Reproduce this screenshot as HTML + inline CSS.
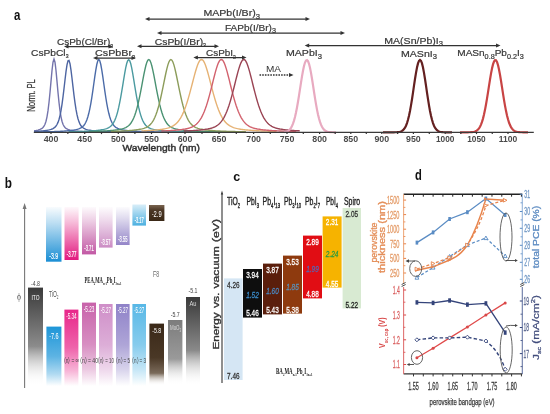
<!DOCTYPE html>
<html><head><meta charset="utf-8"><style>
html,body{margin:0;padding:0;background:#fff;width:550px;height:414px;overflow:hidden}
svg{display:block;filter:blur(0.35px)}
</style></head><body>
<svg width="550" height="414" viewBox="0 0 550 414">
<rect width="550" height="414" fill="#fff"/>
<g id="pa">
<text x="13.9" y="19.6" font-size="14.5" fill="#111" font-weight="bold" text-anchor="start" textLength="6.4" lengthAdjust="spacingAndGlyphs" font-family='"Liberation Sans", sans-serif' ><tspan>a</tspan></text>
<path d="M34.00,130.84 L35.00,130.69 L36.00,130.52 L37.00,130.32 L38.00,130.08 L39.00,129.79 L40.00,129.43 L41.00,128.98 L42.00,128.36 L43.00,127.50 L44.00,126.20 L45.00,124.23 L46.00,121.25 L47.00,116.84 L48.00,110.65 L49.00,102.48 L50.00,92.49 L51.00,81.34 L52.00,70.48 L53.00,62.18 L54.00,59.00 L55.00,62.18 L56.00,70.48 L57.00,81.34 L58.00,92.49 L59.00,102.48 L60.00,110.65 L61.00,116.84 L62.00,121.25 L63.00,124.23 L64.00,126.20 L65.00,127.50 L66.00,128.36 L67.00,128.98 L68.00,129.43 L69.00,129.79 L70.00,130.08 L71.00,130.32 L72.00,130.52 L73.00,130.69 L74.00,130.84 L75.00,130.97 L76.00,131.09 L77.00,131.19 L78.00,131.27 L79.00,131.35 L80.00,131.42 L81.00,131.48 L82.00,131.54 L83.00,131.59 L84.00,131.64 L85.00,131.68 L86.00,131.71 L87.00,131.75 L88.00,131.78 L89.00,131.81 L90.00,131.84 L91.00,131.86 L92.00,131.88 L93.00,131.90 L94.00,131.92 L95.00,131.94 L96.00,131.96 L97.00,131.97 L98.00,131.99 L99.00,132.00 L100.00,132.01 L101.00,132.03 L102.00,132.04 L103.00,132.05 L104.00,132.06 L105.00,132.07 L106.00,132.08 L107.00,132.08 L108.00,132.09 L109.00,132.10 L110.00,132.11 L111.00,132.11 L112.00,132.12 L113.00,132.13 L114.00,132.13 L115.00,132.14 L116.00,132.14 L117.00,132.15 L118.00,132.15 L119.00,132.16 L120.00,132.16 L121.00,132.16 L122.00,132.17 L123.00,132.17 L124.00,132.18 L125.00,132.18 L126.00,132.18 L127.00,132.19 L128.00,132.19 L129.00,132.19" fill="none" stroke="#7474ac" stroke-width="1.4"/>
<path d="M34.00,131.50 L35.00,131.45 L36.00,131.40 L37.00,131.34 L38.00,131.28 L39.00,131.21 L40.00,131.14 L41.00,131.06 L42.00,130.97 L43.00,130.86 L44.00,130.75 L45.00,130.62 L46.00,130.48 L47.00,130.32 L48.00,130.13 L49.00,129.92 L50.00,129.67 L51.00,129.37 L52.00,129.01 L53.00,128.55 L54.00,127.96 L55.00,127.15 L56.00,126.05 L57.00,124.51 L58.00,122.37 L59.00,119.45 L60.00,115.55 L61.00,110.53 L62.00,104.31 L63.00,96.94 L64.00,88.67 L65.00,79.98 L66.00,71.65 L67.00,64.80 L68.00,60.71 L69.00,60.32 L70.00,63.73 L71.00,70.12 L72.00,78.25 L73.00,86.94 L74.00,95.35 L75.00,102.92 L76.00,109.38 L77.00,114.64 L78.00,118.75 L79.00,121.85 L80.00,124.13 L81.00,125.78 L82.00,126.96 L83.00,127.81 L84.00,128.45 L85.00,128.93 L86.00,129.31 L87.00,129.61 L88.00,129.87 L89.00,130.09 L90.00,130.28 L91.00,130.45 L92.00,130.60 L93.00,130.73 L94.00,130.84 L95.00,130.95 L96.00,131.04 L97.00,131.12 L98.00,131.20 L99.00,131.27 L100.00,131.33 L101.00,131.39 L102.00,131.44 L103.00,131.49 L104.00,131.53 L105.00,131.57 L106.00,131.61 L107.00,131.65 L108.00,131.68 L109.00,131.71 L110.00,131.74 L111.00,131.76 L112.00,131.79 L113.00,131.81 L114.00,131.83 L115.00,131.85 L116.00,131.87 L117.00,131.89 L118.00,131.90 L119.00,131.92 L120.00,131.93 L121.00,131.95 L122.00,131.96 L123.00,131.97 L124.00,131.98 L125.00,131.99 L126.00,132.00 L127.00,132.01 L128.00,132.02 L129.00,132.03 L130.00,132.04 L131.00,132.05 L132.00,132.06 L133.00,132.06 L134.00,132.07 L135.00,132.08 L136.00,132.08 L137.00,132.09 L138.00,132.10 L139.00,132.10 L140.00,132.11 L141.00,132.11 L142.00,132.12 L143.00,132.12" fill="none" stroke="#4d65a2" stroke-width="1.4"/>
<path d="M38.80,131.89 L39.80,131.88 L40.80,131.86 L41.80,131.85 L42.80,131.83 L43.80,131.81 L44.80,131.80 L45.80,131.78 L46.80,131.76 L47.80,131.74 L48.80,131.71 L49.80,131.69 L50.80,131.66 L51.80,131.64 L52.80,131.61 L53.80,131.58 L54.80,131.55 L55.80,131.51 L56.80,131.48 L57.80,131.44 L58.80,131.39 L59.80,131.35 L60.80,131.30 L61.80,131.24 L62.80,131.19 L63.80,131.13 L64.80,131.06 L65.80,130.98 L66.80,130.90 L67.80,130.82 L68.80,130.72 L69.80,130.62 L70.80,130.50 L71.80,130.37 L72.80,130.23 L73.80,130.07 L74.80,129.89 L75.80,129.69 L76.80,129.46 L77.80,129.18 L78.80,128.86 L79.80,128.46 L80.80,127.97 L81.80,127.35 L82.80,126.54 L83.80,125.48 L84.80,124.09 L85.80,122.28 L86.80,119.95 L87.80,116.98 L88.80,113.30 L89.80,108.83 L90.80,103.55 L91.80,97.52 L92.80,90.84 L93.80,83.77 L94.80,76.66 L95.80,70.03 L96.80,64.51 L97.80,60.81 L98.80,59.50 L99.80,60.81 L100.80,64.51 L101.80,70.03 L102.80,76.66 L103.80,83.77 L104.80,90.84 L105.80,97.52 L106.80,103.55 L107.80,108.83 L108.80,113.30 L109.80,116.98 L110.80,119.95 L111.80,122.28 L112.80,124.09 L113.80,125.48 L114.80,126.54 L115.80,127.35 L116.80,127.97 L117.80,128.46 L118.80,128.86 L119.80,129.18 L120.80,129.46 L121.80,129.69 L122.80,129.89 L123.80,130.07 L124.80,130.23 L125.80,130.37 L126.80,130.50 L127.80,130.62 L128.80,130.72 L129.80,130.82 L130.80,130.90 L131.80,130.98 L132.80,131.06 L133.80,131.13 L134.80,131.19 L135.80,131.24 L136.80,131.30 L137.80,131.35 L138.80,131.39 L139.80,131.44 L140.80,131.48 L141.80,131.51 L142.80,131.55 L143.80,131.58 L144.80,131.61 L145.80,131.64 L146.80,131.66 L147.80,131.69 L148.80,131.71 L149.80,131.74 L150.80,131.76 L151.80,131.78 L152.80,131.80 L153.80,131.81 L154.80,131.83 L155.80,131.85 L156.80,131.86 L157.80,131.88 L158.80,131.89 L159.80,131.90 L160.80,131.92 L161.80,131.93 L162.80,131.94 L163.80,131.95 L164.80,131.96 L165.80,131.97 L166.80,131.98 L167.80,131.99 L168.80,132.00 L169.80,132.01 L170.80,132.01 L171.80,132.02 L172.80,132.03 L173.80,132.04" fill="none" stroke="#4b6ba8" stroke-width="1.4"/>
<path d="M68.70,131.76 L69.70,131.75 L70.70,131.73 L71.70,131.71 L72.70,131.69 L73.70,131.66 L74.70,131.64 L75.70,131.62 L76.70,131.59 L77.70,131.56 L78.70,131.53 L79.70,131.50 L80.70,131.47 L81.70,131.44 L82.70,131.40 L83.70,131.36 L84.70,131.32 L85.70,131.27 L86.70,131.22 L87.70,131.17 L88.70,131.12 L89.70,131.06 L90.70,131.00 L91.70,130.93 L92.70,130.85 L93.70,130.77 L94.70,130.69 L95.70,130.59 L96.70,130.49 L97.70,130.38 L98.70,130.25 L99.70,130.12 L100.70,129.97 L101.70,129.80 L102.70,129.62 L103.70,129.41 L104.70,129.16 L105.70,128.88 L106.70,128.54 L107.70,128.14 L108.70,127.64 L109.70,127.02 L110.70,126.24 L111.70,125.26 L112.70,124.01 L113.70,122.44 L114.70,120.48 L115.70,118.05 L116.70,115.11 L117.70,111.58 L118.70,107.45 L119.70,102.71 L120.70,97.41 L121.70,91.62 L122.70,85.52 L123.70,79.31 L124.70,73.30 L125.70,67.90 L126.70,63.54 L127.70,60.69 L128.70,59.70 L129.70,60.69 L130.70,63.54 L131.70,67.90 L132.70,73.30 L133.70,79.31 L134.70,85.52 L135.70,91.62 L136.70,97.41 L137.70,102.71 L138.70,107.45 L139.70,111.58 L140.70,115.11 L141.70,118.05 L142.70,120.48 L143.70,122.44 L144.70,124.01 L145.70,125.26 L146.70,126.24 L147.70,127.02 L148.70,127.64 L149.70,128.14 L150.70,128.54 L151.70,128.88 L152.70,129.16 L153.70,129.41 L154.70,129.62 L155.70,129.80 L156.70,129.97 L157.70,130.12 L158.70,130.25 L159.70,130.38 L160.70,130.49 L161.70,130.59 L162.70,130.69 L163.70,130.77 L164.70,130.85 L165.70,130.93 L166.70,131.00 L167.70,131.06 L168.70,131.12 L169.70,131.17 L170.70,131.22 L171.70,131.27 L172.70,131.32 L173.70,131.36 L174.70,131.40 L175.70,131.44 L176.70,131.47 L177.70,131.50 L178.70,131.53 L179.70,131.56 L180.70,131.59 L181.70,131.62 L182.70,131.64 L183.70,131.66 L184.70,131.69 L185.70,131.71 L186.70,131.73 L187.70,131.75 L188.70,131.76 L189.70,131.78 L190.70,131.80 L191.70,131.81 L192.70,131.83 L193.70,131.84 L194.70,131.86 L195.70,131.87 L196.70,131.88 L197.70,131.89 L198.70,131.90 L199.70,131.92 L200.70,131.93 L201.70,131.94 L202.70,131.95 L203.70,131.95" fill="none" stroke="#4b9aa0" stroke-width="1.4"/>
<path d="M88.80,131.58 L89.80,131.56 L90.80,131.53 L91.80,131.50 L92.80,131.48 L93.80,131.45 L94.80,131.41 L95.80,131.38 L96.80,131.35 L97.80,131.31 L98.80,131.27 L99.80,131.23 L100.80,131.19 L101.80,131.14 L102.80,131.09 L103.80,131.04 L104.80,130.98 L105.80,130.93 L106.80,130.86 L107.80,130.79 L108.80,130.72 L109.80,130.64 L110.80,130.56 L111.80,130.47 L112.80,130.37 L113.80,130.27 L114.80,130.15 L115.80,130.03 L116.80,129.89 L117.80,129.74 L118.80,129.58 L119.80,129.39 L120.80,129.18 L121.80,128.95 L122.80,128.67 L123.80,128.35 L124.80,127.97 L125.80,127.52 L126.80,126.97 L127.80,126.30 L128.80,125.48 L129.80,124.47 L130.80,123.25 L131.80,121.75 L132.80,119.95 L133.80,117.79 L134.80,115.24 L135.80,112.26 L136.80,108.83 L137.80,104.95 L138.80,100.62 L139.80,95.90 L140.80,90.84 L141.80,85.56 L142.80,80.20 L143.80,74.94 L144.80,70.03 L145.80,65.74 L146.80,62.39 L147.80,60.24 L148.80,59.50 L149.80,60.24 L150.80,62.39 L151.80,65.74 L152.80,70.03 L153.80,74.94 L154.80,80.20 L155.80,85.56 L156.80,90.84 L157.80,95.90 L158.80,100.62 L159.80,104.95 L160.80,108.83 L161.80,112.26 L162.80,115.24 L163.80,117.79 L164.80,119.95 L165.80,121.75 L166.80,123.25 L167.80,124.47 L168.80,125.48 L169.80,126.30 L170.80,126.97 L171.80,127.52 L172.80,127.97 L173.80,128.35 L174.80,128.67 L175.80,128.95 L176.80,129.18 L177.80,129.39 L178.80,129.58 L179.80,129.74 L180.80,129.89 L181.80,130.03 L182.80,130.15 L183.80,130.27 L184.80,130.37 L185.80,130.47 L186.80,130.56 L187.80,130.64 L188.80,130.72 L189.80,130.79 L190.80,130.86 L191.80,130.93 L192.80,130.98 L193.80,131.04 L194.80,131.09 L195.80,131.14 L196.80,131.19 L197.80,131.23 L198.80,131.27 L199.80,131.31 L200.80,131.35 L201.80,131.38 L202.80,131.41 L203.80,131.45 L204.80,131.48 L205.80,131.50 L206.80,131.53 L207.80,131.56 L208.80,131.58 L209.80,131.60 L210.80,131.62 L211.80,131.64 L212.80,131.66 L213.80,131.68 L214.80,131.70 L215.80,131.72 L216.80,131.74 L217.80,131.75 L218.80,131.77 L219.80,131.78 L220.80,131.80 L221.80,131.81 L222.80,131.82 L223.80,131.83" fill="none" stroke="#4a9272" stroke-width="1.4"/>
<path d="M110.90,131.46 L111.90,131.43 L112.90,131.40 L113.90,131.37 L114.90,131.34 L115.90,131.30 L116.90,131.27 L117.90,131.23 L118.90,131.19 L119.90,131.14 L120.90,131.10 L121.90,131.05 L122.90,131.00 L123.90,130.95 L124.90,130.89 L125.90,130.83 L126.90,130.77 L127.90,130.70 L128.90,130.62 L129.90,130.55 L130.90,130.46 L131.90,130.37 L132.90,130.28 L133.90,130.17 L134.90,130.06 L135.90,129.94 L136.90,129.80 L137.90,129.66 L138.90,129.49 L139.90,129.31 L140.90,129.11 L141.90,128.89 L142.90,128.63 L143.90,128.32 L144.90,127.97 L145.90,127.55 L146.90,127.06 L147.90,126.46 L148.90,125.75 L149.90,124.88 L150.90,123.84 L151.90,122.59 L152.90,121.10 L153.90,119.32 L154.90,117.24 L155.90,114.81 L156.90,112.01 L157.90,108.83 L158.90,105.26 L159.90,101.32 L160.90,97.02 L161.90,92.43 L162.90,87.61 L163.90,82.67 L164.90,77.74 L165.90,72.99 L166.90,68.63 L167.90,64.88 L168.90,61.97 L169.90,60.13 L170.90,59.50 L171.90,60.13 L172.90,61.97 L173.90,64.88 L174.90,68.63 L175.90,72.99 L176.90,77.74 L177.90,82.67 L178.90,87.61 L179.90,92.43 L180.90,97.02 L181.90,101.32 L182.90,105.26 L183.90,108.83 L184.90,112.01 L185.90,114.81 L186.90,117.24 L187.90,119.32 L188.90,121.10 L189.90,122.59 L190.90,123.84 L191.90,124.88 L192.90,125.75 L193.90,126.46 L194.90,127.06 L195.90,127.55 L196.90,127.97 L197.90,128.32 L198.90,128.63 L199.90,128.89 L200.90,129.11 L201.90,129.31 L202.90,129.49 L203.90,129.66 L204.90,129.80 L205.90,129.94 L206.90,130.06 L207.90,130.17 L208.90,130.28 L209.90,130.37 L210.90,130.46 L211.90,130.55 L212.90,130.62 L213.90,130.70 L214.90,130.77 L215.90,130.83 L216.90,130.89 L217.90,130.95 L218.90,131.00 L219.90,131.05 L220.90,131.10 L221.90,131.14 L222.90,131.19 L223.90,131.23 L224.90,131.27 L225.90,131.30 L226.90,131.34 L227.90,131.37 L228.90,131.40 L229.90,131.43 L230.90,131.46 L231.90,131.48 L232.90,131.51 L233.90,131.53 L234.90,131.56 L235.90,131.58 L236.90,131.60 L237.90,131.62 L238.90,131.64 L239.90,131.66 L240.90,131.68 L241.90,131.69 L242.90,131.71 L243.90,131.73 L244.90,131.74 L245.90,131.76" fill="none" stroke="#8c9c5a" stroke-width="1.4"/>
<path d="M141.50,130.94 L142.50,130.89 L143.50,130.85 L144.50,130.80 L145.50,130.75 L146.50,130.69 L147.50,130.63 L148.50,130.57 L149.50,130.51 L150.50,130.44 L151.50,130.37 L152.50,130.30 L153.50,130.22 L154.50,130.13 L155.50,130.04 L156.50,129.95 L157.50,129.85 L158.50,129.74 L159.50,129.62 L160.50,129.49 L161.50,129.35 L162.50,129.20 L163.50,129.04 L164.50,128.85 L165.50,128.65 L166.50,128.42 L167.50,128.16 L168.50,127.87 L169.50,127.54 L170.50,127.15 L171.50,126.71 L172.50,126.21 L173.50,125.62 L174.50,124.94 L175.50,124.15 L176.50,123.25 L177.50,122.20 L178.50,121.00 L179.50,119.63 L180.50,118.07 L181.50,116.31 L182.50,114.33 L183.50,112.13 L184.50,109.69 L185.50,107.02 L186.50,104.12 L187.50,100.98 L188.50,97.64 L189.50,94.11 L190.50,90.43 L191.50,86.63 L192.50,82.77 L193.50,78.92 L194.50,75.14 L195.50,71.54 L196.50,68.22 L197.50,65.29 L198.50,62.85 L199.50,61.02 L200.50,59.89 L201.50,59.50 L202.50,59.89 L203.50,61.02 L204.50,62.85 L205.50,65.29 L206.50,68.22 L207.50,71.54 L208.50,75.14 L209.50,78.92 L210.50,82.77 L211.50,86.63 L212.50,90.43 L213.50,94.11 L214.50,97.64 L215.50,100.98 L216.50,104.12 L217.50,107.02 L218.50,109.69 L219.50,112.13 L220.50,114.33 L221.50,116.31 L222.50,118.07 L223.50,119.63 L224.50,121.00 L225.50,122.20 L226.50,123.25 L227.50,124.15 L228.50,124.94 L229.50,125.62 L230.50,126.21 L231.50,126.71 L232.50,127.15 L233.50,127.54 L234.50,127.87 L235.50,128.16 L236.50,128.42 L237.50,128.65 L238.50,128.85 L239.50,129.04 L240.50,129.20 L241.50,129.35 L242.50,129.49 L243.50,129.62 L244.50,129.74 L245.50,129.85 L246.50,129.95 L247.50,130.04 L248.50,130.13 L249.50,130.22 L250.50,130.30 L251.50,130.37 L252.50,130.44 L253.50,130.51 L254.50,130.57 L255.50,130.63 L256.50,130.69 L257.50,130.75 L258.50,130.80 L259.50,130.85 L260.50,130.89 L261.50,130.94 L262.50,130.98 L263.50,131.02 L264.50,131.06 L265.50,131.10 L266.50,131.13 L267.50,131.17 L268.50,131.20 L269.50,131.23 L270.50,131.26 L271.50,131.29 L272.50,131.32 L273.50,131.34 L274.50,131.37 L275.50,131.39 L276.50,131.41" fill="none" stroke="#e6b274" stroke-width="1.4"/>
<path d="M161.30,131.04 L162.30,131.00 L163.30,130.96 L164.30,130.91 L165.30,130.86 L166.30,130.81 L167.30,130.76 L168.30,130.70 L169.30,130.64 L170.30,130.58 L171.30,130.52 L172.30,130.45 L173.30,130.37 L174.30,130.29 L175.30,130.21 L176.30,130.12 L177.30,130.03 L178.30,129.93 L179.30,129.82 L180.30,129.70 L181.30,129.58 L182.30,129.44 L183.30,129.29 L184.30,129.13 L185.30,128.95 L186.30,128.74 L187.30,128.52 L188.30,128.26 L189.30,127.97 L190.30,127.64 L191.30,127.26 L192.30,126.81 L193.30,126.30 L194.30,125.70 L195.30,125.00 L196.30,124.19 L197.30,123.25 L198.30,122.15 L199.30,120.89 L200.30,119.44 L201.30,117.79 L202.30,115.91 L203.30,113.80 L204.30,111.44 L205.30,108.83 L206.30,105.96 L207.30,102.84 L208.30,99.48 L209.30,95.90 L210.30,92.13 L211.30,88.22 L212.30,84.22 L213.30,80.20 L214.30,76.23 L215.30,72.42 L216.30,68.89 L217.30,65.74 L218.30,63.12 L219.30,61.15 L220.30,59.92 L221.30,59.50 L222.30,59.92 L223.30,61.15 L224.30,63.12 L225.30,65.74 L226.30,68.89 L227.30,72.42 L228.30,76.23 L229.30,80.20 L230.30,84.22 L231.30,88.22 L232.30,92.13 L233.30,95.90 L234.30,99.48 L235.30,102.84 L236.30,105.96 L237.30,108.83 L238.30,111.44 L239.30,113.80 L240.30,115.91 L241.30,117.79 L242.30,119.44 L243.30,120.89 L244.30,122.15 L245.30,123.25 L246.30,124.19 L247.30,125.00 L248.30,125.70 L249.30,126.30 L250.30,126.81 L251.30,127.26 L252.30,127.64 L253.30,127.97 L254.30,128.26 L255.30,128.52 L256.30,128.74 L257.30,128.95 L258.30,129.13 L259.30,129.29 L260.30,129.44 L261.30,129.58 L262.30,129.70 L263.30,129.82 L264.30,129.93 L265.30,130.03 L266.30,130.12 L267.30,130.21 L268.30,130.29 L269.30,130.37 L270.30,130.45 L271.30,130.52 L272.30,130.58 L273.30,130.64 L274.30,130.70 L275.30,130.76 L276.30,130.81 L277.30,130.86 L278.30,130.91 L279.30,130.96 L280.30,131.00 L281.30,131.04 L282.30,131.08 L283.30,131.12 L284.30,131.15 L285.30,131.19 L286.30,131.22 L287.30,131.25 L288.30,131.28 L289.30,131.31 L290.30,131.34 L291.30,131.36 L292.30,131.39 L293.30,131.41 L294.30,131.44 L295.30,131.46 L296.30,131.48" fill="none" stroke="#d2626e" stroke-width="1.4"/>
<path d="M183.80,131.04 L184.80,131.00 L185.80,130.96 L186.80,130.91 L187.80,130.86 L188.80,130.81 L189.80,130.76 L190.80,130.70 L191.80,130.64 L192.80,130.58 L193.80,130.52 L194.80,130.45 L195.80,130.37 L196.80,130.29 L197.80,130.21 L198.80,130.12 L199.80,130.03 L200.80,129.93 L201.80,129.82 L202.80,129.70 L203.80,129.58 L204.80,129.44 L205.80,129.29 L206.80,129.13 L207.80,128.95 L208.80,128.74 L209.80,128.52 L210.80,128.26 L211.80,127.97 L212.80,127.64 L213.80,127.26 L214.80,126.81 L215.80,126.30 L216.80,125.70 L217.80,125.00 L218.80,124.19 L219.80,123.25 L220.80,122.15 L221.80,120.89 L222.80,119.44 L223.80,117.79 L224.80,115.91 L225.80,113.80 L226.80,111.44 L227.80,108.83 L228.80,105.96 L229.80,102.84 L230.80,99.48 L231.80,95.90 L232.80,92.13 L233.80,88.22 L234.80,84.22 L235.80,80.20 L236.80,76.23 L237.80,72.42 L238.80,68.89 L239.80,65.74 L240.80,63.12 L241.80,61.15 L242.80,59.92 L243.80,59.50 L244.80,59.92 L245.80,61.15 L246.80,63.12 L247.80,65.74 L248.80,68.89 L249.80,72.42 L250.80,76.23 L251.80,80.20 L252.80,84.22 L253.80,88.22 L254.80,92.13 L255.80,95.90 L256.80,99.48 L257.80,102.84 L258.80,105.96 L259.80,108.83 L260.80,111.44 L261.80,113.80 L262.80,115.91 L263.80,117.79 L264.80,119.44 L265.80,120.89 L266.80,122.15 L267.80,123.25 L268.80,124.19 L269.80,125.00 L270.80,125.70 L271.80,126.30 L272.80,126.81 L273.80,127.26 L274.80,127.64 L275.80,127.97 L276.80,128.26 L277.80,128.52 L278.80,128.74 L279.80,128.95 L280.80,129.13 L281.80,129.29 L282.80,129.44 L283.80,129.58 L284.80,129.70 L285.80,129.82 L286.80,129.93 L287.80,130.03 L288.80,130.12 L289.80,130.21 L290.80,130.29 L291.80,130.37 L292.80,130.45 L293.80,130.52 L294.80,130.58 L295.80,130.64 L296.80,130.70 L297.80,130.76 L298.80,130.81 L299.80,130.86" fill="none" stroke="#9a4454" stroke-width="1.4"/>
<path d="M284.00,132.08 L285.00,131.94 L286.00,131.72 L287.00,131.38 L288.00,130.89 L289.00,130.18 L290.00,129.18 L291.00,127.82 L292.00,126.00 L293.00,123.63 L294.00,120.64 L295.00,116.97 L296.00,112.58 L297.00,107.49 L298.00,101.78 L299.00,95.59 L300.00,89.10 L301.00,82.59 L302.00,76.36 L303.00,70.74 L304.00,66.05 L305.00,62.56 L306.00,60.51 L307.00,60.03 L308.00,61.15 L309.00,63.79 L310.00,67.79 L311.00,72.90 L312.00,78.80 L313.00,85.18 L314.00,91.71 L315.00,98.11 L316.00,104.14 L317.00,109.61 L318.00,114.42 L319.00,118.52 L320.00,121.92 L321.00,124.65 L322.00,126.79 L323.00,128.41 L324.00,129.62 L325.00,130.49 L326.00,131.11 L327.00,131.53 L328.00,131.82 L329.00,132.00 L330.00,132.12 L331.00,132.19 L332.00,132.24 L333.00,132.27 L334.00,132.28 L335.00,132.29 L336.00,132.29" fill="none" stroke="#e8aac0" stroke-width="2.2"/>
<path d="M383.00,132.30 L384.00,132.30 L385.00,132.30 L386.00,132.30 L387.00,132.30 L388.00,132.30 L389.00,132.30 L390.00,132.30 L391.00,132.30 L392.00,132.29 L393.00,132.29 L394.00,132.28 L395.00,132.26 L396.00,132.24 L397.00,132.19 L398.00,132.10 L399.00,131.97 L400.00,131.75 L401.00,131.42 L402.00,130.91 L403.00,130.18 L404.00,129.12 L405.00,127.66 L406.00,125.69 L407.00,123.11 L408.00,119.83 L409.00,115.79 L410.00,110.97 L411.00,105.40 L412.00,99.20 L413.00,92.55 L414.00,85.71 L415.00,79.02 L416.00,72.83 L417.00,67.52 L418.00,63.45 L419.00,60.88 L420.00,60.00 L421.00,60.88 L422.00,63.45 L423.00,67.52 L424.00,72.83 L425.00,79.02 L426.00,85.71 L427.00,92.55 L428.00,99.20 L429.00,105.40 L430.00,110.97 L431.00,115.79 L432.00,119.83 L433.00,123.11 L434.00,125.69 L435.00,127.66 L436.00,129.12 L437.00,130.18 L438.00,130.91 L439.00,131.42 L440.00,131.75 L441.00,131.97 L442.00,132.10 L443.00,132.19 L444.00,132.24 L445.00,132.26 L446.00,132.28 L447.00,132.29 L448.00,132.29 L449.00,132.30 L450.00,132.30 L451.00,132.30 L452.00,132.30" fill="none" stroke="#642020" stroke-width="2.2"/>
<path d="M460.00,132.30 L461.00,132.30 L462.00,132.30 L463.00,132.30 L464.00,132.30 L465.00,132.30 L466.00,132.29 L467.00,132.29 L468.00,132.28 L469.00,132.26 L470.00,132.23 L471.00,132.18 L472.00,132.11 L473.00,131.98 L474.00,131.79 L475.00,131.50 L476.00,131.06 L477.00,130.44 L478.00,129.56 L479.00,128.35 L480.00,126.74 L481.00,124.62 L482.00,121.93 L483.00,118.59 L484.00,114.56 L485.00,109.85 L486.00,104.49 L487.00,98.59 L488.00,92.31 L489.00,85.87 L490.00,79.55 L491.00,73.66 L492.00,68.50 L493.00,64.37 L494.00,61.52 L495.00,60.12 L496.00,60.28 L497.00,61.97 L498.00,65.10 L499.00,69.45 L500.00,74.79 L501.00,80.79 L502.00,87.16 L503.00,93.58 L504.00,99.81 L505.00,105.61 L506.00,110.85 L507.00,115.43 L508.00,119.31 L509.00,122.52 L510.00,125.09 L511.00,127.10 L512.00,128.63 L513.00,129.76 L514.00,130.58 L515.00,131.16 L516.00,131.56 L517.00,131.83 L518.00,132.01 L519.00,132.12 L520.00,132.20 L521.00,132.24 L522.00,132.27 L523.00,132.28 L524.00,132.29 L525.00,132.29 L526.00,132.30 L527.00,132.30 L528.00,132.30" fill="none" stroke="#c84444" stroke-width="2.2"/>
<line x1="33.8" y1="132.3" x2="533.8" y2="132.3" stroke="#3a3a3a" stroke-width="1.3"/>
<line x1="51.00" y1="132.3" x2="51.00" y2="134.10000000000002" stroke="#333" stroke-width="1.2"/>
<line x1="67.85" y1="132.3" x2="67.85" y2="134.10000000000002" stroke="#333" stroke-width="1.2"/>
<line x1="84.70" y1="132.3" x2="84.70" y2="134.10000000000002" stroke="#333" stroke-width="1.2"/>
<line x1="101.50" y1="132.3" x2="101.50" y2="134.10000000000002" stroke="#333" stroke-width="1.2"/>
<line x1="118.30" y1="132.3" x2="118.30" y2="134.10000000000002" stroke="#333" stroke-width="1.2"/>
<line x1="134.90" y1="132.3" x2="134.90" y2="134.10000000000002" stroke="#333" stroke-width="1.2"/>
<line x1="151.50" y1="132.3" x2="151.50" y2="134.10000000000002" stroke="#333" stroke-width="1.2"/>
<line x1="168.25" y1="132.3" x2="168.25" y2="134.10000000000002" stroke="#333" stroke-width="1.2"/>
<line x1="185.00" y1="132.3" x2="185.00" y2="134.10000000000002" stroke="#333" stroke-width="1.2"/>
<line x1="202.00" y1="132.3" x2="202.00" y2="134.10000000000002" stroke="#333" stroke-width="1.2"/>
<line x1="219.00" y1="132.3" x2="219.00" y2="134.10000000000002" stroke="#333" stroke-width="1.2"/>
<line x1="236.30" y1="132.3" x2="236.30" y2="134.10000000000002" stroke="#333" stroke-width="1.2"/>
<line x1="253.60" y1="132.3" x2="253.60" y2="134.10000000000002" stroke="#333" stroke-width="1.2"/>
<line x1="270.30" y1="132.3" x2="270.30" y2="134.10000000000002" stroke="#333" stroke-width="1.2"/>
<line x1="287.00" y1="132.3" x2="287.00" y2="134.10000000000002" stroke="#333" stroke-width="1.2"/>
<line x1="303.30" y1="132.3" x2="303.30" y2="134.10000000000002" stroke="#333" stroke-width="1.2"/>
<line x1="319.60" y1="132.3" x2="319.60" y2="134.10000000000002" stroke="#333" stroke-width="1.2"/>
<line x1="335.20" y1="132.3" x2="335.20" y2="134.10000000000002" stroke="#333" stroke-width="1.2"/>
<line x1="350.80" y1="132.3" x2="350.80" y2="134.10000000000002" stroke="#333" stroke-width="1.2"/>
<line x1="366.30" y1="132.3" x2="366.30" y2="134.10000000000002" stroke="#333" stroke-width="1.2"/>
<line x1="381.80" y1="132.3" x2="381.80" y2="134.10000000000002" stroke="#333" stroke-width="1.2"/>
<line x1="397.60" y1="132.3" x2="397.60" y2="134.10000000000002" stroke="#333" stroke-width="1.2"/>
<line x1="413.40" y1="132.3" x2="413.40" y2="134.10000000000002" stroke="#333" stroke-width="1.2"/>
<line x1="429.30" y1="132.3" x2="429.30" y2="134.10000000000002" stroke="#333" stroke-width="1.2"/>
<line x1="445.20" y1="132.3" x2="445.20" y2="134.10000000000002" stroke="#333" stroke-width="1.2"/>
<line x1="460.85" y1="132.3" x2="460.85" y2="134.10000000000002" stroke="#333" stroke-width="1.2"/>
<line x1="476.50" y1="132.3" x2="476.50" y2="134.10000000000002" stroke="#333" stroke-width="1.2"/>
<line x1="492.25" y1="132.3" x2="492.25" y2="134.10000000000002" stroke="#333" stroke-width="1.2"/>
<line x1="508.00" y1="132.3" x2="508.00" y2="134.10000000000002" stroke="#333" stroke-width="1.2"/>
<text x="51.0" y="141.5" font-size="8.2" fill="#4a4a4a" font-weight="bold" text-anchor="middle" textLength="14.7" lengthAdjust="spacingAndGlyphs" font-family='"Liberation Sans", sans-serif' ><tspan>400</tspan></text>
<text x="84.7" y="141.5" font-size="8.2" fill="#4a4a4a" font-weight="bold" text-anchor="middle" textLength="14.7" lengthAdjust="spacingAndGlyphs" font-family='"Liberation Sans", sans-serif' ><tspan>450</tspan></text>
<text x="118.3" y="141.5" font-size="8.2" fill="#4a4a4a" font-weight="bold" text-anchor="middle" textLength="14.7" lengthAdjust="spacingAndGlyphs" font-family='"Liberation Sans", sans-serif' ><tspan>500</tspan></text>
<text x="151.5" y="141.5" font-size="8.2" fill="#4a4a4a" font-weight="bold" text-anchor="middle" textLength="14.7" lengthAdjust="spacingAndGlyphs" font-family='"Liberation Sans", sans-serif' ><tspan>550</tspan></text>
<text x="185.0" y="141.5" font-size="8.2" fill="#4a4a4a" font-weight="bold" text-anchor="middle" textLength="14.7" lengthAdjust="spacingAndGlyphs" font-family='"Liberation Sans", sans-serif' ><tspan>600</tspan></text>
<text x="219.0" y="141.5" font-size="8.2" fill="#4a4a4a" font-weight="bold" text-anchor="middle" textLength="14.7" lengthAdjust="spacingAndGlyphs" font-family='"Liberation Sans", sans-serif' ><tspan>650</tspan></text>
<text x="253.6" y="141.5" font-size="8.2" fill="#4a4a4a" font-weight="bold" text-anchor="middle" textLength="14.7" lengthAdjust="spacingAndGlyphs" font-family='"Liberation Sans", sans-serif' ><tspan>700</tspan></text>
<text x="287.0" y="141.5" font-size="8.2" fill="#4a4a4a" font-weight="bold" text-anchor="middle" textLength="14.7" lengthAdjust="spacingAndGlyphs" font-family='"Liberation Sans", sans-serif' ><tspan>750</tspan></text>
<text x="319.6" y="141.5" font-size="8.2" fill="#4a4a4a" font-weight="bold" text-anchor="middle" textLength="14.7" lengthAdjust="spacingAndGlyphs" font-family='"Liberation Sans", sans-serif' ><tspan>800</tspan></text>
<text x="350.8" y="141.5" font-size="8.2" fill="#4a4a4a" font-weight="bold" text-anchor="middle" textLength="14.7" lengthAdjust="spacingAndGlyphs" font-family='"Liberation Sans", sans-serif' ><tspan>850</tspan></text>
<text x="381.8" y="141.5" font-size="8.2" fill="#4a4a4a" font-weight="bold" text-anchor="middle" textLength="14.7" lengthAdjust="spacingAndGlyphs" font-family='"Liberation Sans", sans-serif' ><tspan>900</tspan></text>
<text x="413.4" y="141.5" font-size="8.2" fill="#4a4a4a" font-weight="bold" text-anchor="middle" textLength="14.7" lengthAdjust="spacingAndGlyphs" font-family='"Liberation Sans", sans-serif' ><tspan>950</tspan></text>
<text x="445.2" y="141.5" font-size="8.2" fill="#4a4a4a" font-weight="bold" text-anchor="middle" textLength="18.5" lengthAdjust="spacingAndGlyphs" font-family='"Liberation Sans", sans-serif' ><tspan>1000</tspan></text>
<text x="476.5" y="141.5" font-size="8.2" fill="#4a4a4a" font-weight="bold" text-anchor="middle" textLength="18.5" lengthAdjust="spacingAndGlyphs" font-family='"Liberation Sans", sans-serif' ><tspan>1050</tspan></text>
<text x="508.0" y="141.5" font-size="8.2" fill="#4a4a4a" font-weight="bold" text-anchor="middle" textLength="18.5" lengthAdjust="spacingAndGlyphs" font-family='"Liberation Sans", sans-serif' ><tspan>1100</tspan></text>
<text x="122.5" y="150.8" font-size="9.6" fill="#333" font-weight="normal" text-anchor="start" textLength="77.5" lengthAdjust="spacingAndGlyphs" font-family='"Liberation Sans", sans-serif' stroke="#333" stroke-width="0.45"><tspan>Wavelength (nm)</tspan></text>
<text x="35.3" y="111.7" font-size="10.5" fill="#333" font-weight="normal" text-anchor="start" textLength="32.5" lengthAdjust="spacingAndGlyphs" transform="rotate(-90 35.3 111.7)" font-family='"Liberation Sans", sans-serif' stroke="#333" stroke-width="0.25"><tspan>Norm. PL</tspan></text>
<line x1="147" y1="19" x2="308" y2="19" stroke="#333" stroke-width="1.25"/>
<path d="M310,19 L305.5,17 L305.5,21 Z" fill="#333"/>
<path d="M145,19 L149.5,17 L149.5,21 Z" fill="#333"/>
<line x1="159" y1="33" x2="343" y2="33" stroke="#333" stroke-width="1.25"/>
<path d="M345,33 L340.5,31 L340.5,35 Z" fill="#333"/>
<path d="M157,33 L161.5,31 L161.5,35 Z" fill="#333"/>
<line x1="66" y1="46.5" x2="111" y2="46.5" stroke="#333" stroke-width="1.25"/>
<path d="M113,46.5 L108.5,44.5 L108.5,48.5 Z" fill="#333"/>
<path d="M64,46.5 L68.5,44.5 L68.5,48.5 Z" fill="#333"/>
<line x1="95" y1="58" x2="134" y2="58" stroke="#333" stroke-width="1.25"/>
<path d="M136,58 L131.5,56 L131.5,60 Z" fill="#333"/>
<path d="M93,58 L97.5,56 L97.5,60 Z" fill="#333"/>
<line x1="139" y1="46.3" x2="217" y2="46.3" stroke="#333" stroke-width="1.25"/>
<path d="M219,46.3 L214.5,44.3 L214.5,48.3 Z" fill="#333"/>
<path d="M137,46.3 L141.5,44.3 L141.5,48.3 Z" fill="#333"/>
<line x1="195.4" y1="57.5" x2="244.5" y2="57.5" stroke="#333" stroke-width="1.25"/>
<path d="M246.5,57.5 L242.0,55.5 L242.0,59.5 Z" fill="#333"/>
<path d="M193.4,57.5 L197.9,55.5 L197.9,59.5 Z" fill="#333"/>
<line x1="306.7" y1="45.6" x2="498.5" y2="45.6" stroke="#333" stroke-width="1.25"/>
<path d="M500.5,45.6 L496.0,43.6 L496.0,47.6 Z" fill="#333"/>
<path d="M304.7,45.6 L309.2,43.6 L309.2,47.6 Z" fill="#333"/>
<line x1="259.5" y1="75" x2="291.5" y2="75" stroke="#333" stroke-width="1.5" stroke-dasharray="1.6,1.1"/>
<path d="M293.5,75 L289.0,73 L289.0,77 Z" fill="#333"/>
<text x="203.4" y="16.3" font-size="9.3" fill="#383838" font-weight="normal" text-anchor="start" textLength="56.6" lengthAdjust="spacingAndGlyphs" font-family='"Liberation Sans", sans-serif' stroke="#383838" stroke-width="0.2"><tspan>MAPb(I/Br)</tspan><tspan dy="2.60" font-size="6.70">3</tspan></text>
<text x="225" y="30.5" font-size="9.3" fill="#383838" font-weight="normal" text-anchor="start" textLength="51" lengthAdjust="spacingAndGlyphs" font-family='"Liberation Sans", sans-serif' stroke="#383838" stroke-width="0.2"><tspan>FAPb(I/Br)</tspan><tspan dy="2.60" font-size="6.70">3</tspan></text>
<text x="57" y="45" font-size="9.3" fill="#383838" font-weight="normal" text-anchor="start" textLength="56" lengthAdjust="spacingAndGlyphs" font-family='"Liberation Sans", sans-serif' stroke="#383838" stroke-width="0.2"><tspan>CsPb(Cl/Br)</tspan><tspan dy="2.60" font-size="4.65">3</tspan></text>
<text x="31" y="55.5" font-size="9.3" fill="#383838" font-weight="normal" text-anchor="start" textLength="37.5" lengthAdjust="spacingAndGlyphs" font-family='"Liberation Sans", sans-serif' stroke="#383838" stroke-width="0.2"><tspan>CsPbCl</tspan><tspan dy="2.60" font-size="4.65">3</tspan></text>
<text x="95" y="56" font-size="9.3" fill="#383838" font-weight="normal" text-anchor="start" textLength="40" lengthAdjust="spacingAndGlyphs" font-family='"Liberation Sans", sans-serif' stroke="#383838" stroke-width="0.2"><tspan>CsPbBr</tspan><tspan dy="2.60" font-size="4.65">3</tspan></text>
<text x="154.8" y="44.8" font-size="9.3" fill="#383838" font-weight="normal" text-anchor="start" textLength="51.2" lengthAdjust="spacingAndGlyphs" font-family='"Liberation Sans", sans-serif' stroke="#383838" stroke-width="0.2"><tspan>CsPb(I/Br)</tspan><tspan dy="2.60" font-size="4.65">3</tspan></text>
<text x="206" y="56" font-size="9.3" fill="#383838" font-weight="normal" text-anchor="start" textLength="29.8" lengthAdjust="spacingAndGlyphs" font-family='"Liberation Sans", sans-serif' stroke="#383838" stroke-width="0.2"><tspan>CsPbI</tspan><tspan dy="2.60" font-size="4.65">3</tspan></text>
<text x="286" y="56" font-size="9.3" fill="#383838" font-weight="normal" text-anchor="start" textLength="36" lengthAdjust="spacingAndGlyphs" font-family='"Liberation Sans", sans-serif' stroke="#383838" stroke-width="0.2"><tspan>MAPbI</tspan><tspan dy="2.60" font-size="6.70">3</tspan></text>
<text x="384.3" y="43.6" font-size="9.3" fill="#383838" font-weight="normal" text-anchor="start" textLength="58.7" lengthAdjust="spacingAndGlyphs" font-family='"Liberation Sans", sans-serif' stroke="#383838" stroke-width="0.2"><tspan>MA(Sn/Pb)I</tspan><tspan dy="2.60" font-size="6.70">3</tspan></text>
<text x="401" y="56.8" font-size="9.3" fill="#383838" font-weight="normal" text-anchor="start" textLength="36" lengthAdjust="spacingAndGlyphs" font-family='"Liberation Sans", sans-serif' stroke="#383838" stroke-width="0.2"><tspan>MASnI</tspan><tspan dy="2.60" font-size="6.70">3</tspan></text>
<text x="457.3" y="56" font-size="9.3" fill="#383838" font-weight="normal" text-anchor="start" textLength="66.5" lengthAdjust="spacingAndGlyphs" font-family='"Liberation Sans", sans-serif' stroke="#383838" stroke-width="0.2"><tspan>MASn</tspan><tspan dy="2.60" font-size="6.70">0.8</tspan><tspan dy="-2.60">Pb</tspan><tspan dy="2.60" font-size="6.70">0.2</tspan><tspan dy="-2.60">I</tspan><tspan dy="2.60" font-size="6.70">3</tspan></text>
<text x="266" y="72.3" font-size="9.5" fill="#333" font-weight="normal" text-anchor="start" textLength="15" lengthAdjust="spacingAndGlyphs" font-family='"Liberation Sans", sans-serif' ><tspan>MA</tspan></text>
</g>
<g id="pb">
<text x="4.8" y="187.6" font-size="14.2" fill="#111" font-weight="bold" text-anchor="start" textLength="7.2" lengthAdjust="spacingAndGlyphs" font-family='"Liberation Sans", sans-serif' ><tspan>b</tspan></text>
<line x1="24.6" y1="207" x2="24.6" y2="388" stroke="#777" stroke-width="1.1"/>
<path d="M24.6,203 L22.6,209 L26.6,209 Z" fill="#777"/>
<text x="19" y="299.5" font-size="11" fill="#555" font-weight="normal" text-anchor="middle" textLength="4" lengthAdjust="spacingAndGlyphs" font-family='"Liberation Serif", serif' ><tspan>ϕ</tspan></text>
<linearGradient id="gt0" x1="0" y1="0" x2="0" y2="1"><stop offset="0" stop-color="#1a8ed4" stop-opacity="0.03"/><stop offset="0.3" stop-color="#1a8ed4" stop-opacity="0.3"/><stop offset="1" stop-color="#1a8ed4"/></linearGradient>
<rect x="46" y="207" width="15.5" height="54.69999999999999" fill="url(#gt0)"/>
<text x="53.75" y="258.7" font-size="8.5" fill="#fff" font-weight="normal" text-anchor="middle" textLength="9" lengthAdjust="spacingAndGlyphs" font-family='"Liberation Sans", sans-serif' stroke="#fff" stroke-width="0.2"><tspan>-3.9</tspan></text>
<linearGradient id="gt1" x1="0" y1="0" x2="0" y2="1"><stop offset="0" stop-color="#e2187e" stop-opacity="0.03"/><stop offset="0.3" stop-color="#e2187e" stop-opacity="0.3"/><stop offset="1" stop-color="#e2187e"/></linearGradient>
<rect x="64.5" y="207" width="14.099999999999994" height="53" fill="url(#gt1)"/>
<text x="71.55" y="257" font-size="8.5" fill="#fff" font-weight="normal" text-anchor="middle" textLength="9.599999999999994" lengthAdjust="spacingAndGlyphs" font-family='"Liberation Sans", sans-serif' stroke="#fff" stroke-width="0.2"><tspan>-3.77</tspan></text>
<linearGradient id="gt2" x1="0" y1="0" x2="0" y2="1"><stop offset="0" stop-color="#c258a4" stop-opacity="0.03"/><stop offset="0.3" stop-color="#c258a4" stop-opacity="0.3"/><stop offset="1" stop-color="#c258a4"/></linearGradient>
<rect x="82" y="207" width="14" height="47.400000000000006" fill="url(#gt2)"/>
<text x="89.0" y="251.4" font-size="8.5" fill="#fff" font-weight="normal" text-anchor="middle" textLength="9.5" lengthAdjust="spacingAndGlyphs" font-family='"Liberation Sans", sans-serif' stroke="#fff" stroke-width="0.2"><tspan>-3.71</tspan></text>
<linearGradient id="gt3" x1="0" y1="0" x2="0" y2="1"><stop offset="0" stop-color="#cc8cc4" stop-opacity="0.03"/><stop offset="0.3" stop-color="#cc8cc4" stop-opacity="0.3"/><stop offset="1" stop-color="#cc8cc4"/></linearGradient>
<rect x="99" y="207" width="13.599999999999994" height="40.599999999999994" fill="url(#gt3)"/>
<text x="105.8" y="244.6" font-size="8.5" fill="#fff" font-weight="normal" text-anchor="middle" textLength="9.099999999999994" lengthAdjust="spacingAndGlyphs" font-family='"Liberation Sans", sans-serif' stroke="#fff" stroke-width="0.2"><tspan>-3.57</tspan></text>
<linearGradient id="gt4" x1="0" y1="0" x2="0" y2="1"><stop offset="0" stop-color="#9485c8" stop-opacity="0.03"/><stop offset="0.3" stop-color="#9485c8" stop-opacity="0.3"/><stop offset="1" stop-color="#9485c8"/></linearGradient>
<rect x="116" y="207" width="13.599999999999994" height="38" fill="url(#gt4)"/>
<text x="122.8" y="242" font-size="8.5" fill="#fff" font-weight="normal" text-anchor="middle" textLength="9.099999999999994" lengthAdjust="spacingAndGlyphs" font-family='"Liberation Sans", sans-serif' stroke="#fff" stroke-width="0.2"><tspan>-3.55</tspan></text>
<linearGradient id="gt5" x1="0" y1="0" x2="0" y2="1"><stop offset="0" stop-color="#4cb0e0" stop-opacity="0.22"/><stop offset="0.3" stop-color="#4cb0e0" stop-opacity="0.45"/><stop offset="1" stop-color="#4cb0e0"/></linearGradient>
<rect x="132.4" y="204.5" width="13.599999999999994" height="21.099999999999994" fill="url(#gt5)"/>
<text x="139.2" y="222.6" font-size="8.5" fill="#fff" font-weight="normal" text-anchor="middle" textLength="9.099999999999994" lengthAdjust="spacingAndGlyphs" font-family='"Liberation Sans", sans-serif' stroke="#fff" stroke-width="0.2"><tspan>-3.17</tspan></text>
<linearGradient id="gbrt" x1="0" y1="0" x2="0" y2="1"><stop offset="0" stop-color="#7a6450"/><stop offset="0.35" stop-color="#4a3624"/><stop offset="1" stop-color="#3a2816"/></linearGradient>
<rect x="149" y="205" width="15.4" height="16" fill="url(#gbrt)"/>
<text x="156.7" y="216.5" font-size="8.5" fill="#fff" font-weight="normal" text-anchor="middle" textLength="10" lengthAdjust="spacingAndGlyphs" font-family='"Liberation Sans", sans-serif' ><tspan>-2.9</tspan></text>
<linearGradient id="gb0" x1="0" y1="0" x2="0" y2="1"><stop offset="0" stop-color="#1e96d8"/><stop offset="0.5" stop-color="#1e96d8" stop-opacity="0.72"/><stop offset="0.8" stop-color="#1e96d8" stop-opacity="0.35"/><stop offset="1" stop-color="#1e96d8" stop-opacity="0"/></linearGradient>
<rect x="46.4" y="326.6" width="15.0" height="59.39999999999998" fill="url(#gb0)"/>
<text x="53.9" y="338.6" font-size="8.5" fill="#fff" font-weight="normal" text-anchor="middle" textLength="9.5" lengthAdjust="spacingAndGlyphs" font-family='"Liberation Sans", sans-serif' ><tspan>-7.6</tspan></text>
<linearGradient id="gb1" x1="0" y1="0" x2="0" y2="1"><stop offset="0" stop-color="#e8278a"/><stop offset="0.5" stop-color="#e8278a" stop-opacity="0.72"/><stop offset="0.8" stop-color="#e8278a" stop-opacity="0.35"/><stop offset="1" stop-color="#e8278a" stop-opacity="0"/></linearGradient>
<rect x="64.4" y="309.6" width="14.0" height="76.39999999999998" fill="url(#gb1)"/>
<text x="71.4" y="318.6" font-size="8.5" fill="#fff" font-weight="normal" text-anchor="middle" textLength="10.5" lengthAdjust="spacingAndGlyphs" font-family='"Liberation Sans", sans-serif' ><tspan>-5.34</tspan></text>
<linearGradient id="gb2" x1="0" y1="0" x2="0" y2="1"><stop offset="0" stop-color="#c862aa"/><stop offset="0.5" stop-color="#c862aa" stop-opacity="0.72"/><stop offset="0.8" stop-color="#c862aa" stop-opacity="0.35"/><stop offset="1" stop-color="#c862aa" stop-opacity="0"/></linearGradient>
<rect x="82" y="302.6" width="14" height="83.39999999999998" fill="url(#gb2)"/>
<text x="89.0" y="311.6" font-size="8.5" fill="#fff" font-weight="normal" text-anchor="middle" textLength="10.5" lengthAdjust="spacingAndGlyphs" font-family='"Liberation Sans", sans-serif' ><tspan>-5.23</tspan></text>
<linearGradient id="gb3" x1="0" y1="0" x2="0" y2="1"><stop offset="0" stop-color="#cf8ec8"/><stop offset="0.5" stop-color="#cf8ec8" stop-opacity="0.72"/><stop offset="0.8" stop-color="#cf8ec8" stop-opacity="0.35"/><stop offset="1" stop-color="#cf8ec8" stop-opacity="0"/></linearGradient>
<rect x="99" y="304" width="13.599999999999994" height="82" fill="url(#gb3)"/>
<text x="105.8" y="313" font-size="8.5" fill="#fff" font-weight="normal" text-anchor="middle" textLength="10.099999999999994" lengthAdjust="spacingAndGlyphs" font-family='"Liberation Sans", sans-serif' ><tspan>-5.27</tspan></text>
<linearGradient id="gb4" x1="0" y1="0" x2="0" y2="1"><stop offset="0" stop-color="#8f82c8"/><stop offset="0.5" stop-color="#8f82c8" stop-opacity="0.72"/><stop offset="0.8" stop-color="#8f82c8" stop-opacity="0.35"/><stop offset="1" stop-color="#8f82c8" stop-opacity="0"/></linearGradient>
<rect x="116" y="304" width="13.599999999999994" height="82" fill="url(#gb4)"/>
<text x="122.8" y="313" font-size="8.5" fill="#fff" font-weight="normal" text-anchor="middle" textLength="10.099999999999994" lengthAdjust="spacingAndGlyphs" font-family='"Liberation Sans", sans-serif' ><tspan>-5.27</tspan></text>
<linearGradient id="gb5" x1="0" y1="0" x2="0" y2="1"><stop offset="0" stop-color="#58b8e6"/><stop offset="0.5" stop-color="#58b8e6" stop-opacity="0.72"/><stop offset="0.8" stop-color="#58b8e6" stop-opacity="0.35"/><stop offset="1" stop-color="#58b8e6" stop-opacity="0"/></linearGradient>
<rect x="132.4" y="304" width="13.599999999999994" height="82" fill="url(#gb5)"/>
<text x="139.2" y="313" font-size="8.5" fill="#fff" font-weight="normal" text-anchor="middle" textLength="10.099999999999994" lengthAdjust="spacingAndGlyphs" font-family='"Liberation Sans", sans-serif' ><tspan>-5.27</tspan></text>
<linearGradient id="gito" x1="0" y1="0" x2="0" y2="1"><stop offset="0" stop-color="#3a3a3a"/><stop offset="0.6" stop-color="#8c8c8c"/><stop offset="1" stop-color="#fff" stop-opacity="0"/></linearGradient>
<rect x="28" y="287.6" width="15" height="98" fill="url(#gito)"/>
<text x="35.5" y="286" font-size="7.5" fill="#444" font-weight="normal" text-anchor="middle" textLength="9" lengthAdjust="spacingAndGlyphs" font-family='"Liberation Sans", sans-serif' ><tspan>-4.8</tspan></text>
<text x="35.5" y="299.5" font-size="8" fill="#fff" font-weight="normal" text-anchor="middle" textLength="8" lengthAdjust="spacingAndGlyphs" font-family='"Liberation Sans", sans-serif' ><tspan>ITO</tspan></text>
<text x="49" y="297" font-size="8.5" fill="#555" font-weight="normal" text-anchor="start" textLength="9.5" lengthAdjust="spacingAndGlyphs" font-family='"Liberation Sans", sans-serif' ><tspan>TiO</tspan><tspan dy="2.38" font-size="5.10">2</tspan></text>
<linearGradient id="gbrb" x1="0" y1="0" x2="0" y2="1"><stop offset="0" stop-color="#3a2818"/><stop offset="0.55" stop-color="#4a3826"/><stop offset="0.8" stop-color="#7a6a5a"/><stop offset="1" stop-color="#fff" stop-opacity="0"/></linearGradient>
<rect x="149.4" y="323.6" width="14.6" height="62" fill="url(#gbrb)"/>
<text x="156.7" y="332.5" font-size="6.5" fill="#fff" font-weight="normal" text-anchor="middle" textLength="9" lengthAdjust="spacingAndGlyphs" font-family='"Liberation Sans", sans-serif' ><tspan>-5.8</tspan></text>
<linearGradient id="gmoo" x1="0" y1="0" x2="0" y2="1"><stop offset="0" stop-color="#7c7c7c"/><stop offset="0.6" stop-color="#9a9a9a"/><stop offset="1" stop-color="#fff" stop-opacity="0"/></linearGradient>
<rect x="168" y="320" width="14.4" height="65" fill="url(#gmoo)"/>
<text x="175.2" y="317" font-size="7.5" fill="#444" font-weight="normal" text-anchor="middle" textLength="9" lengthAdjust="spacingAndGlyphs" font-family='"Liberation Sans", sans-serif' ><tspan>-5.7</tspan></text>
<text x="175.5" y="329.5" font-size="7.5" fill="#ddd" font-weight="normal" text-anchor="middle" textLength="11" lengthAdjust="spacingAndGlyphs" font-family='"Liberation Sans", sans-serif' ><tspan>MoO</tspan><tspan dy="2.10" font-size="4.50">3</tspan></text>
<linearGradient id="gau" x1="0" y1="0" x2="0" y2="1"><stop offset="0" stop-color="#3a3a3a"/><stop offset="0.6" stop-color="#8a8a8a"/><stop offset="1" stop-color="#fff" stop-opacity="0"/></linearGradient>
<rect x="186" y="297" width="14" height="89" fill="url(#gau)"/>
<text x="193" y="292.5" font-size="7.5" fill="#444" font-weight="normal" text-anchor="middle" textLength="9" lengthAdjust="spacingAndGlyphs" font-family='"Liberation Sans", sans-serif' ><tspan>-5.1</tspan></text>
<text x="193" y="306" font-size="8" fill="#ddd" font-weight="normal" text-anchor="middle" textLength="7" lengthAdjust="spacingAndGlyphs" font-family='"Liberation Sans", sans-serif' ><tspan>Au</tspan></text>
<text x="84.5" y="282.8" font-size="7.8" fill="#222" font-weight="bold" text-anchor="start" textLength="37" lengthAdjust="spacingAndGlyphs" font-family='"Liberation Serif", serif' ><tspan>PEA</tspan><tspan dy="2.18" font-size="4.68">2</tspan><tspan dy="-2.18">MA</tspan><tspan dy="2.18" font-size="4.68">n-1</tspan><tspan dy="-2.18">Pb</tspan><tspan dy="2.18" font-size="4.68">n</tspan><tspan dy="-2.18">I</tspan><tspan dy="2.18" font-size="4.68">3n+1</tspan></text>
<text x="153" y="277.3" font-size="9" fill="#666" font-weight="normal" text-anchor="start" textLength="6" lengthAdjust="spacingAndGlyphs" font-family='"Liberation Sans", sans-serif' ><tspan>F8</tspan></text>
<text x="64" y="362.5" font-size="8" fill="#444" font-weight="normal" text-anchor="start" textLength="15" lengthAdjust="spacingAndGlyphs" font-family='"Liberation Sans", sans-serif' ><tspan>⟨n⟩ = ∞</tspan></text>
<text x="80" y="362.5" font-size="8" fill="#444" font-weight="normal" text-anchor="start" textLength="18" lengthAdjust="spacingAndGlyphs" font-family='"Liberation Sans", sans-serif' ><tspan>⟨n⟩ = 40</tspan></text>
<text x="98.4" y="362.5" font-size="8" fill="#444" font-weight="normal" text-anchor="start" textLength="15.599999999999994" lengthAdjust="spacingAndGlyphs" font-family='"Liberation Sans", sans-serif' ><tspan>⟨n⟩ = 10</tspan></text>
<text x="116.4" y="362.5" font-size="8" fill="#444" font-weight="normal" text-anchor="start" textLength="13.599999999999994" lengthAdjust="spacingAndGlyphs" font-family='"Liberation Sans", sans-serif' ><tspan>⟨n⟩ = 5</tspan></text>
<text x="132.4" y="362.5" font-size="8" fill="#444" font-weight="normal" text-anchor="start" textLength="13.599999999999994" lengthAdjust="spacingAndGlyphs" font-family='"Liberation Sans", sans-serif' ><tspan>⟨n⟩ = 3</tspan></text>
</g>
<g id="pc">
<text x="233.3" y="181" font-size="12.5" fill="#111" font-weight="bold" text-anchor="start" font-family='"Liberation Sans", sans-serif' ><tspan>c</tspan></text>
<line x1="222" y1="194" x2="222" y2="383" stroke="#333" stroke-width="1.1"/>
<path d="M222,190.5 L220.8,194.5 L223.2,194.5 Z" fill="#333"/>
<text x="219.2" y="349.6" font-size="9" fill="#333" font-weight="normal" text-anchor="start" textLength="37.2" lengthAdjust="spacingAndGlyphs" transform="rotate(-90 219.2 349.6)" font-family='"Liberation Sans", sans-serif' stroke="#333" stroke-width="0.35"><tspan>Energy</tspan></text>
<text x="219.2" y="308.1" font-size="9" fill="#333" font-weight="normal" text-anchor="start" textLength="15.6" lengthAdjust="spacingAndGlyphs" transform="rotate(-90 219.2 308.1)" font-family='"Liberation Sans", sans-serif' stroke="#333" stroke-width="0.35"><tspan>vs.</tspan></text>
<text x="219.2" y="288.4" font-size="9" fill="#333" font-weight="normal" text-anchor="start" textLength="42.3" lengthAdjust="spacingAndGlyphs" transform="rotate(-90 219.2 288.4)" font-family='"Liberation Sans", sans-serif' stroke="#333" stroke-width="0.35"><tspan>vacuum</tspan></text>
<text x="219.2" y="242.1" font-size="9" fill="#333" font-weight="normal" text-anchor="start" textLength="23.3" lengthAdjust="spacingAndGlyphs" transform="rotate(-90 219.2 242.1)" font-family='"Liberation Sans", sans-serif' stroke="#333" stroke-width="0.35"><tspan>(eV)</tspan></text>
<text x="227" y="204.6" font-size="10.5" fill="#222" font-weight="normal" text-anchor="start" textLength="13" lengthAdjust="spacingAndGlyphs" font-family='"Liberation Sans", sans-serif' stroke="#222" stroke-width="0.35"><tspan>TiO</tspan><tspan dy="2.94" font-size="6.30">2</tspan></text>
<text x="246.6" y="204.6" font-size="10.5" fill="#222" font-weight="normal" text-anchor="start" textLength="12.400000000000006" lengthAdjust="spacingAndGlyphs" font-family='"Liberation Sans", sans-serif' stroke="#222" stroke-width="0.35"><tspan>PbI</tspan><tspan dy="2.94" font-size="6.30">3</tspan></text>
<text x="262.6" y="204.6" font-size="10.5" fill="#222" font-weight="normal" text-anchor="start" textLength="17.399999999999977" lengthAdjust="spacingAndGlyphs" font-family='"Liberation Sans", sans-serif' stroke="#222" stroke-width="0.35"><tspan>Pb</tspan><tspan dy="2.94" font-size="6.30">4</tspan><tspan dy="-2.94">I</tspan><tspan dy="2.94" font-size="6.30">13</tspan></text>
<text x="284" y="204.6" font-size="10.5" fill="#222" font-weight="normal" text-anchor="start" textLength="17" lengthAdjust="spacingAndGlyphs" font-family='"Liberation Sans", sans-serif' stroke="#222" stroke-width="0.35"><tspan>Pb</tspan><tspan dy="2.94" font-size="6.30">3</tspan><tspan dy="-2.94">I</tspan><tspan dy="2.94" font-size="6.30">10</tspan></text>
<text x="305" y="204.6" font-size="10.5" fill="#222" font-weight="normal" text-anchor="start" textLength="15" lengthAdjust="spacingAndGlyphs" font-family='"Liberation Sans", sans-serif' stroke="#222" stroke-width="0.35"><tspan>Pb</tspan><tspan dy="2.94" font-size="6.30">2</tspan><tspan dy="-2.94">I</tspan><tspan dy="2.94" font-size="6.30">7</tspan></text>
<text x="326" y="204.6" font-size="10.5" fill="#222" font-weight="normal" text-anchor="start" textLength="12" lengthAdjust="spacingAndGlyphs" font-family='"Liberation Sans", sans-serif' stroke="#222" stroke-width="0.35"><tspan>PbI</tspan><tspan dy="2.94" font-size="6.30">4</tspan></text>
<text x="344" y="204.6" font-size="10.5" fill="#222" font-weight="normal" text-anchor="start" textLength="16" lengthAdjust="spacingAndGlyphs" font-family='"Liberation Sans", sans-serif' stroke="#222" stroke-width="0.35"><tspan>Spiro</tspan></text>
<rect x="224" y="278.4" width="18.60" height="101.60" fill="#d5e6f4"/>
<rect x="243" y="269" width="19.00" height="48.60" fill="#0e0e0e"/>
<rect x="263" y="263.6" width="19.00" height="50.80" fill="#5a1e0c"/>
<rect x="283" y="255.6" width="19.00" height="58.00" fill="#8e3a0e"/>
<rect x="303" y="235.6" width="19.00" height="62.80" fill="#e10d14"/>
<rect x="322.6" y="216.4" width="19.00" height="71.20" fill="#f6b300"/>
<rect x="342.6" y="208" width="18.40" height="100.40" fill="#d8ead2"/>
<text x="233.3" y="288" font-size="9.3" fill="#333" font-weight="normal" text-anchor="middle" textLength="12.5" lengthAdjust="spacingAndGlyphs" font-family='"Liberation Sans", sans-serif' stroke="#333" stroke-width="0.3"><tspan>4.26</tspan></text>
<text x="233.3" y="378.5" font-size="9.3" fill="#333" font-weight="normal" text-anchor="middle" textLength="12.5" lengthAdjust="spacingAndGlyphs" font-family='"Liberation Sans", sans-serif' stroke="#333" stroke-width="0.3"><tspan>7.46</tspan></text>
<text x="252.5" y="278" font-size="9.3" fill="#fff" font-weight="normal" text-anchor="middle" textLength="12.5" lengthAdjust="spacingAndGlyphs" font-family='"Liberation Sans", sans-serif' stroke="#fff" stroke-width="0.3"><tspan>3.94</tspan></text>
<text x="252.5" y="297.5" font-size="9.3" fill="#3a8ac8" font-weight="normal" text-anchor="middle" textLength="12.5" lengthAdjust="spacingAndGlyphs" font-style="italic" font-family='"Liberation Sans", sans-serif' stroke="#3a8ac8" stroke-width="0.3"><tspan>1.52</tspan></text>
<text x="252.5" y="316" font-size="9.3" fill="#fff" font-weight="normal" text-anchor="middle" textLength="12.5" lengthAdjust="spacingAndGlyphs" font-family='"Liberation Sans", sans-serif' stroke="#fff" stroke-width="0.3"><tspan>5.46</tspan></text>
<text x="272.5" y="272.5" font-size="9.3" fill="#fff" font-weight="normal" text-anchor="middle" textLength="12.5" lengthAdjust="spacingAndGlyphs" font-family='"Liberation Sans", sans-serif' stroke="#fff" stroke-width="0.3"><tspan>3.87</tspan></text>
<text x="272.5" y="293.5" font-size="9.3" fill="#4a86c0" font-weight="normal" text-anchor="middle" textLength="12.5" lengthAdjust="spacingAndGlyphs" font-style="italic" font-family='"Liberation Sans", sans-serif' stroke="#4a86c0" stroke-width="0.3"><tspan>1.60</tspan></text>
<text x="272.5" y="313" font-size="9.3" fill="#fff" font-weight="normal" text-anchor="middle" textLength="12.5" lengthAdjust="spacingAndGlyphs" font-family='"Liberation Sans", sans-serif' stroke="#fff" stroke-width="0.3"><tspan>5.43</tspan></text>
<text x="292.5" y="264.5" font-size="9.3" fill="#fff" font-weight="normal" text-anchor="middle" textLength="12.5" lengthAdjust="spacingAndGlyphs" font-family='"Liberation Sans", sans-serif' stroke="#fff" stroke-width="0.3"><tspan>3.53</tspan></text>
<text x="292.5" y="290" font-size="9.3" fill="#5a90b8" font-weight="normal" text-anchor="middle" textLength="12.5" lengthAdjust="spacingAndGlyphs" font-style="italic" font-family='"Liberation Sans", sans-serif' stroke="#5a90b8" stroke-width="0.3"><tspan>1.85</tspan></text>
<text x="292.5" y="312.5" font-size="9.3" fill="#fff" font-weight="normal" text-anchor="middle" textLength="12.5" lengthAdjust="spacingAndGlyphs" font-family='"Liberation Sans", sans-serif' stroke="#fff" stroke-width="0.3"><tspan>5.38</tspan></text>
<text x="312.5" y="244.5" font-size="9.3" fill="#fff" font-weight="normal" text-anchor="middle" textLength="12.5" lengthAdjust="spacingAndGlyphs" font-family='"Liberation Sans", sans-serif' stroke="#fff" stroke-width="0.3"><tspan>2.89</tspan></text>
<text x="312.5" y="271.5" font-size="9.3" fill="#5a64b0" font-weight="normal" text-anchor="middle" textLength="12.5" lengthAdjust="spacingAndGlyphs" font-style="italic" font-family='"Liberation Sans", sans-serif' stroke="#5a64b0" stroke-width="0.3"><tspan>1.99</tspan></text>
<text x="312.5" y="297" font-size="9.3" fill="#fff" font-weight="normal" text-anchor="middle" textLength="12.5" lengthAdjust="spacingAndGlyphs" font-family='"Liberation Sans", sans-serif' stroke="#fff" stroke-width="0.3"><tspan>4.88</tspan></text>
<text x="332.1" y="225" font-size="9.3" fill="#fff" font-weight="normal" text-anchor="middle" textLength="12.5" lengthAdjust="spacingAndGlyphs" font-family='"Liberation Sans", sans-serif' stroke="#fff" stroke-width="0.3"><tspan>2.31</tspan></text>
<text x="332.1" y="256.5" font-size="9.3" fill="#2a9a40" font-weight="normal" text-anchor="middle" textLength="12.5" lengthAdjust="spacingAndGlyphs" font-style="italic" font-family='"Liberation Sans", sans-serif' stroke="#2a9a40" stroke-width="0.3"><tspan>2.24</tspan></text>
<text x="332.1" y="286.5" font-size="9.3" fill="#fff" font-weight="normal" text-anchor="middle" textLength="12.5" lengthAdjust="spacingAndGlyphs" font-family='"Liberation Sans", sans-serif' stroke="#fff" stroke-width="0.3"><tspan>4.55</tspan></text>
<text x="351.8" y="216.5" font-size="9.3" fill="#333" font-weight="normal" text-anchor="middle" textLength="12.5" lengthAdjust="spacingAndGlyphs" font-family='"Liberation Sans", sans-serif' stroke="#333" stroke-width="0.3"><tspan>2.05</tspan></text>
<text x="351.8" y="307.5" font-size="9.3" fill="#222" font-weight="normal" text-anchor="middle" textLength="12.5" lengthAdjust="spacingAndGlyphs" font-family='"Liberation Sans", sans-serif' stroke="#222" stroke-width="0.3"><tspan>5.22</tspan></text>
<text x="276" y="373.6" font-size="8" fill="#222" font-weight="bold" text-anchor="start" textLength="36.5" lengthAdjust="spacingAndGlyphs" font-family='"Liberation Serif", serif' ><tspan>BA</tspan><tspan dy="2.24" font-size="4.80">2</tspan><tspan dy="-2.24">MA</tspan><tspan dy="2.24" font-size="4.80">n-1</tspan><tspan dy="-2.24">Pb</tspan><tspan dy="2.24" font-size="4.80">n</tspan><tspan dy="-2.24">I</tspan><tspan dy="2.24" font-size="4.80">3n+1</tspan></text>
</g>
<g id="pd">
<text x="415" y="180" font-size="14.5" fill="#111" font-weight="bold" text-anchor="start" textLength="6.8" lengthAdjust="spacingAndGlyphs" font-family='"Liberation Sans", sans-serif' ><tspan>d</tspan></text>
<line x1="403.6" y1="194.2" x2="522.3" y2="194.2" stroke="#222" stroke-width="1.4"/>
<line x1="403.6" y1="373.9" x2="522.3" y2="373.9" stroke="#333" stroke-width="1.1"/>
<line x1="403.6" y1="194.2" x2="403.6" y2="283" stroke="#eeac80" stroke-width="1.1"/>
<line x1="403.6" y1="287" x2="403.6" y2="373.9" stroke="#e07474" stroke-width="1.1"/>
<line x1="522.3" y1="194.2" x2="522.3" y2="283" stroke="#94b4da" stroke-width="1.1"/>
<line x1="522.3" y1="287" x2="522.3" y2="373.9" stroke="#6878a4" stroke-width="1.1"/>
<path d="M401.6,284.5 L405.6,282.5 M401.6,286.5 L405.6,284.5" stroke="#333" stroke-width="0.9"/>
<path d="M520.3,284.5 L524.3,282.5 M520.3,286.5 L524.3,284.5" stroke="#333" stroke-width="0.9"/>
<line x1="413.50" y1="194.2" x2="413.50" y2="196.7" stroke="#222" stroke-width="1"/>
<line x1="413.50" y1="373.9" x2="413.50" y2="376.4" stroke="#333" stroke-width="1"/>
<line x1="423.31" y1="194.2" x2="423.31" y2="196.7" stroke="#222" stroke-width="1"/>
<line x1="423.31" y1="373.9" x2="423.31" y2="376.4" stroke="#333" stroke-width="1"/>
<line x1="433.12" y1="194.2" x2="433.12" y2="196.7" stroke="#222" stroke-width="1"/>
<line x1="433.12" y1="373.9" x2="433.12" y2="376.4" stroke="#333" stroke-width="1"/>
<line x1="442.93" y1="194.2" x2="442.93" y2="196.7" stroke="#222" stroke-width="1"/>
<line x1="442.93" y1="373.9" x2="442.93" y2="376.4" stroke="#333" stroke-width="1"/>
<line x1="452.74" y1="194.2" x2="452.74" y2="196.7" stroke="#222" stroke-width="1"/>
<line x1="452.74" y1="373.9" x2="452.74" y2="376.4" stroke="#333" stroke-width="1"/>
<line x1="462.55" y1="194.2" x2="462.55" y2="196.7" stroke="#222" stroke-width="1"/>
<line x1="462.55" y1="373.9" x2="462.55" y2="376.4" stroke="#333" stroke-width="1"/>
<line x1="472.36" y1="194.2" x2="472.36" y2="196.7" stroke="#222" stroke-width="1"/>
<line x1="472.36" y1="373.9" x2="472.36" y2="376.4" stroke="#333" stroke-width="1"/>
<line x1="482.17" y1="194.2" x2="482.17" y2="196.7" stroke="#222" stroke-width="1"/>
<line x1="482.17" y1="373.9" x2="482.17" y2="376.4" stroke="#333" stroke-width="1"/>
<line x1="491.98" y1="194.2" x2="491.98" y2="196.7" stroke="#222" stroke-width="1"/>
<line x1="491.98" y1="373.9" x2="491.98" y2="376.4" stroke="#333" stroke-width="1"/>
<line x1="501.79" y1="194.2" x2="501.79" y2="196.7" stroke="#222" stroke-width="1"/>
<line x1="501.79" y1="373.9" x2="501.79" y2="376.4" stroke="#333" stroke-width="1"/>
<line x1="511.60" y1="194.2" x2="511.60" y2="196.7" stroke="#222" stroke-width="1"/>
<line x1="511.60" y1="373.9" x2="511.60" y2="376.4" stroke="#333" stroke-width="1"/>
<line x1="521.41" y1="194.2" x2="521.41" y2="196.7" stroke="#222" stroke-width="1"/>
<line x1="521.41" y1="373.9" x2="521.41" y2="376.4" stroke="#333" stroke-width="1"/>
<text x="413.5" y="389.8" font-size="10.5" fill="#3a3a3a" font-weight="normal" text-anchor="middle" textLength="10.6" lengthAdjust="spacingAndGlyphs" font-family='"Liberation Sans", sans-serif' stroke="#3a3a3a" stroke-width="0.3"><tspan>1.55</tspan></text>
<text x="433.12" y="389.8" font-size="10.5" fill="#3a3a3a" font-weight="normal" text-anchor="middle" textLength="10.6" lengthAdjust="spacingAndGlyphs" font-family='"Liberation Sans", sans-serif' stroke="#3a3a3a" stroke-width="0.3"><tspan>1.60</tspan></text>
<text x="452.74" y="389.8" font-size="10.5" fill="#3a3a3a" font-weight="normal" text-anchor="middle" textLength="10.6" lengthAdjust="spacingAndGlyphs" font-family='"Liberation Sans", sans-serif' stroke="#3a3a3a" stroke-width="0.3"><tspan>1.65</tspan></text>
<text x="472.36" y="389.8" font-size="10.5" fill="#3a3a3a" font-weight="normal" text-anchor="middle" textLength="10.6" lengthAdjust="spacingAndGlyphs" font-family='"Liberation Sans", sans-serif' stroke="#3a3a3a" stroke-width="0.3"><tspan>1.70</tspan></text>
<text x="491.98" y="389.8" font-size="10.5" fill="#3a3a3a" font-weight="normal" text-anchor="middle" textLength="10.6" lengthAdjust="spacingAndGlyphs" font-family='"Liberation Sans", sans-serif' stroke="#3a3a3a" stroke-width="0.3"><tspan>1.75</tspan></text>
<text x="511.6" y="389.8" font-size="10.5" fill="#3a3a3a" font-weight="normal" text-anchor="middle" textLength="10.6" lengthAdjust="spacingAndGlyphs" font-family='"Liberation Sans", sans-serif' stroke="#3a3a3a" stroke-width="0.3"><tspan>1.80</tspan></text>
<text x="429.6" y="405" font-size="9.8" fill="#333" font-weight="normal" text-anchor="start" textLength="65" lengthAdjust="spacingAndGlyphs" font-family='"Liberation Sans", sans-serif' stroke="#333" stroke-width="0.25"><tspan>perovskite bandgap (eV)</tspan></text>
<line x1="403.6" y1="200.1" x2="406.1" y2="200.1" stroke="#e8844c" stroke-width="1"/>
<text x="399.5" y="204.0" font-size="11" fill="#e49a66" font-weight="normal" text-anchor="end" textLength="12.5" lengthAdjust="spacingAndGlyphs" font-family='"Liberation Sans", sans-serif' stroke="#e49a66" stroke-width="0.3"><tspan>1500</tspan></text>
<line x1="403.6" y1="214.6" x2="406.1" y2="214.6" stroke="#e8844c" stroke-width="1"/>
<text x="399.5" y="218.5" font-size="11" fill="#e49a66" font-weight="normal" text-anchor="end" textLength="12.5" lengthAdjust="spacingAndGlyphs" font-family='"Liberation Sans", sans-serif' stroke="#e49a66" stroke-width="0.3"><tspan>1250</tspan></text>
<line x1="403.6" y1="229.2" x2="406.1" y2="229.2" stroke="#e8844c" stroke-width="1"/>
<text x="399.5" y="233.1" font-size="11" fill="#e49a66" font-weight="normal" text-anchor="end" textLength="12.5" lengthAdjust="spacingAndGlyphs" font-family='"Liberation Sans", sans-serif' stroke="#e49a66" stroke-width="0.3"><tspan>1000</tspan></text>
<line x1="403.6" y1="243.8" x2="406.1" y2="243.8" stroke="#e8844c" stroke-width="1"/>
<text x="399.5" y="247.70000000000002" font-size="11" fill="#e49a66" font-weight="normal" text-anchor="end" textLength="9.5" lengthAdjust="spacingAndGlyphs" font-family='"Liberation Sans", sans-serif' stroke="#e49a66" stroke-width="0.3"><tspan>750</tspan></text>
<line x1="403.6" y1="258.4" x2="406.1" y2="258.4" stroke="#e8844c" stroke-width="1"/>
<text x="399.5" y="262.29999999999995" font-size="11" fill="#e49a66" font-weight="normal" text-anchor="end" textLength="9.5" lengthAdjust="spacingAndGlyphs" font-family='"Liberation Sans", sans-serif' stroke="#e49a66" stroke-width="0.3"><tspan>500</tspan></text>
<line x1="403.6" y1="273.0" x2="406.1" y2="273.0" stroke="#e8844c" stroke-width="1"/>
<text x="399.5" y="276.9" font-size="11" fill="#e49a66" font-weight="normal" text-anchor="end" textLength="9.5" lengthAdjust="spacingAndGlyphs" font-family='"Liberation Sans", sans-serif' stroke="#e49a66" stroke-width="0.3"><tspan>250</tspan></text>
<line x1="403.6" y1="207.4" x2="405.40000000000003" y2="207.4" stroke="#e8844c" stroke-width="0.8"/>
<line x1="403.6" y1="221.9" x2="405.40000000000003" y2="221.9" stroke="#e8844c" stroke-width="0.8"/>
<line x1="403.6" y1="236.5" x2="405.40000000000003" y2="236.5" stroke="#e8844c" stroke-width="0.8"/>
<line x1="403.6" y1="251.1" x2="405.40000000000003" y2="251.1" stroke="#e8844c" stroke-width="0.8"/>
<line x1="403.6" y1="265.7" x2="405.40000000000003" y2="265.7" stroke="#e8844c" stroke-width="0.8"/>
<line x1="519.8" y1="194.2" x2="522.3" y2="194.2" stroke="#5a8cc4" stroke-width="1"/>
<text x="524.3" y="198.1" font-size="11" fill="#6e96c4" font-weight="normal" text-anchor="start" textLength="5.8" lengthAdjust="spacingAndGlyphs" font-family='"Liberation Sans", sans-serif' stroke="#6e96c4" stroke-width="0.3"><tspan>31</tspan></text>
<line x1="519.8" y1="211.5" x2="522.3" y2="211.5" stroke="#5a8cc4" stroke-width="1"/>
<text x="524.3" y="215.4" font-size="11" fill="#6e96c4" font-weight="normal" text-anchor="start" textLength="5.8" lengthAdjust="spacingAndGlyphs" font-family='"Liberation Sans", sans-serif' stroke="#6e96c4" stroke-width="0.3"><tspan>30</tspan></text>
<line x1="519.8" y1="228.3" x2="522.3" y2="228.3" stroke="#5a8cc4" stroke-width="1"/>
<text x="524.3" y="232.20000000000002" font-size="11" fill="#6e96c4" font-weight="normal" text-anchor="start" textLength="5.8" lengthAdjust="spacingAndGlyphs" font-family='"Liberation Sans", sans-serif' stroke="#6e96c4" stroke-width="0.3"><tspan>29</tspan></text>
<line x1="519.8" y1="245.3" x2="522.3" y2="245.3" stroke="#5a8cc4" stroke-width="1"/>
<text x="524.3" y="249.20000000000002" font-size="11" fill="#6e96c4" font-weight="normal" text-anchor="start" textLength="5.8" lengthAdjust="spacingAndGlyphs" font-family='"Liberation Sans", sans-serif' stroke="#6e96c4" stroke-width="0.3"><tspan>28</tspan></text>
<line x1="519.8" y1="262.3" x2="522.3" y2="262.3" stroke="#5a8cc4" stroke-width="1"/>
<text x="524.3" y="266.2" font-size="11" fill="#6e96c4" font-weight="normal" text-anchor="start" textLength="5.8" lengthAdjust="spacingAndGlyphs" font-family='"Liberation Sans", sans-serif' stroke="#6e96c4" stroke-width="0.3"><tspan>27</tspan></text>
<line x1="519.8" y1="279.3" x2="522.3" y2="279.3" stroke="#5a8cc4" stroke-width="1"/>
<text x="524.3" y="283.2" font-size="11" fill="#6e96c4" font-weight="normal" text-anchor="start" textLength="5.8" lengthAdjust="spacingAndGlyphs" font-family='"Liberation Sans", sans-serif' stroke="#6e96c4" stroke-width="0.3"><tspan>26</tspan></text>
<line x1="520.5" y1="202.8" x2="522.3" y2="202.8" stroke="#5a8cc4" stroke-width="0.8"/>
<line x1="520.5" y1="219.9" x2="522.3" y2="219.9" stroke="#5a8cc4" stroke-width="0.8"/>
<line x1="520.5" y1="236.8" x2="522.3" y2="236.8" stroke="#5a8cc4" stroke-width="0.8"/>
<line x1="520.5" y1="253.8" x2="522.3" y2="253.8" stroke="#5a8cc4" stroke-width="0.8"/>
<line x1="520.5" y1="270.8" x2="522.3" y2="270.8" stroke="#5a8cc4" stroke-width="0.8"/>
<line x1="403.6" y1="290" x2="406.1" y2="290" stroke="#d84848" stroke-width="1"/>
<text x="399.7" y="293.9" font-size="11" fill="#d85a5a" font-weight="normal" text-anchor="end" textLength="7" lengthAdjust="spacingAndGlyphs" font-family='"Liberation Sans", sans-serif' stroke="#d85a5a" stroke-width="0.3"><tspan>1.4</tspan></text>
<line x1="403.6" y1="315" x2="406.1" y2="315" stroke="#d84848" stroke-width="1"/>
<text x="399.7" y="318.9" font-size="11" fill="#d85a5a" font-weight="normal" text-anchor="end" textLength="7" lengthAdjust="spacingAndGlyphs" font-family='"Liberation Sans", sans-serif' stroke="#d85a5a" stroke-width="0.3"><tspan>1.3</tspan></text>
<line x1="403.6" y1="339.8" x2="406.1" y2="339.8" stroke="#d84848" stroke-width="1"/>
<text x="399.7" y="343.7" font-size="11" fill="#d85a5a" font-weight="normal" text-anchor="end" textLength="7" lengthAdjust="spacingAndGlyphs" font-family='"Liberation Sans", sans-serif' stroke="#d85a5a" stroke-width="0.3"><tspan>1.2</tspan></text>
<line x1="403.6" y1="364.5" x2="406.1" y2="364.5" stroke="#d84848" stroke-width="1"/>
<text x="399.7" y="368.4" font-size="11" fill="#d85a5a" font-weight="normal" text-anchor="end" textLength="7" lengthAdjust="spacingAndGlyphs" font-family='"Liberation Sans", sans-serif' stroke="#d85a5a" stroke-width="0.3"><tspan>1.1</tspan></text>
<line x1="403.6" y1="302.2" x2="405.40000000000003" y2="302.2" stroke="#d84848" stroke-width="0.8"/>
<line x1="403.6" y1="327.3" x2="405.40000000000003" y2="327.3" stroke="#d84848" stroke-width="0.8"/>
<line x1="403.6" y1="352.3" x2="405.40000000000003" y2="352.3" stroke="#d84848" stroke-width="0.8"/>
<line x1="519.8" y1="301" x2="522.3" y2="301" stroke="#34447a" stroke-width="1"/>
<text x="523.5" y="304.9" font-size="11" fill="#56638c" font-weight="normal" text-anchor="start" textLength="5.5" lengthAdjust="spacingAndGlyphs" font-family='"Liberation Sans", sans-serif' stroke="#56638c" stroke-width="0.3"><tspan>19</tspan></text>
<line x1="519.8" y1="327.5" x2="522.3" y2="327.5" stroke="#34447a" stroke-width="1"/>
<text x="523.5" y="331.4" font-size="11" fill="#56638c" font-weight="normal" text-anchor="start" textLength="5.5" lengthAdjust="spacingAndGlyphs" font-family='"Liberation Sans", sans-serif' stroke="#56638c" stroke-width="0.3"><tspan>18</tspan></text>
<line x1="519.8" y1="353.6" x2="522.3" y2="353.6" stroke="#34447a" stroke-width="1"/>
<text x="523.5" y="357.5" font-size="11" fill="#56638c" font-weight="normal" text-anchor="start" textLength="5.5" lengthAdjust="spacingAndGlyphs" font-family='"Liberation Sans", sans-serif' stroke="#56638c" stroke-width="0.3"><tspan>17</tspan></text>
<line x1="520.5" y1="314.2" x2="522.3" y2="314.2" stroke="#34447a" stroke-width="0.8"/>
<line x1="520.5" y1="340.5" x2="522.3" y2="340.5" stroke="#34447a" stroke-width="0.8"/>
<line x1="520.5" y1="366.6" x2="522.3" y2="366.6" stroke="#34447a" stroke-width="0.8"/>
<text x="377.2" y="242.5" font-size="8.3" fill="#e48e58" font-weight="normal" text-anchor="middle" textLength="40" lengthAdjust="spacingAndGlyphs" transform="rotate(-90 377.2 242.5)" font-family='"Liberation Sans", sans-serif' stroke="#e48e58" stroke-width="0.3"><tspan>perovskite</tspan></text>
<text x="384.8" y="237" font-size="8.3" fill="#e48e58" font-weight="normal" text-anchor="middle" textLength="72" lengthAdjust="spacingAndGlyphs" transform="rotate(-90 384.8 237)" font-family='"Liberation Sans", sans-serif' stroke="#e48e58" stroke-width="0.3"><tspan>thickness (nm)</tspan></text>
<text x="538.6" y="237" font-size="8.5" fill="#5e8cc2" font-weight="normal" text-anchor="middle" textLength="62.5" lengthAdjust="spacingAndGlyphs" transform="rotate(-90 538.6 237)" font-family='"Liberation Sans", sans-serif' stroke="#5e8cc2" stroke-width="0.3"><tspan>total PCE (%)</tspan></text>
<text x="385.5" y="332.7" font-size="9.5" fill="#d84848" font-weight="bold" text-anchor="middle" textLength="30.5" lengthAdjust="spacingAndGlyphs" transform="rotate(-90 385.5 332.7)" font-family='"Liberation Sans", sans-serif' ><tspan>V</tspan><tspan dy="2.66" font-size="5.70">oc, cap</tspan><tspan dy="-2.66"> (V)</tspan></text>
<text x="538.8" y="327.5" font-size="9.5" fill="#404c7c" font-weight="normal" text-anchor="middle" textLength="65" lengthAdjust="spacingAndGlyphs" transform="rotate(-90 538.8 327.5)" font-family='"Liberation Sans", sans-serif' stroke="#404c7c" stroke-width="0.25"><tspan>J</tspan><tspan dy="2.66" font-size="5.70">sc</tspan><tspan dy="-2.66"> (mA/cm</tspan><tspan dy="-3.32" font-size="6.17">2</tspan><tspan dy="3.32">)</tspan></text>
<path d="M416.9,242.6 L433.1,232.4 L449.6,219.0 L467.4,212.2 L485.9,198.5 L505.2,215.0" fill="none" stroke="#5a8cc4" stroke-width="1.25"/>
<path d="M416.9,277.6 L433.1,267.5 L449.6,256.5 L467.4,245.0 L485.9,238.0 L505.2,256.0" fill="none" stroke="#5a8cc4" stroke-width="1.25" stroke-dasharray="3,2"/>
<path d="M416.9,270.3 L433.1,266.8 L449.6,260.0 C457.6,257.0 463.4,251.0 467.4,245.0 C473.4,235.0 479.9,219.0 485.9,199.0 L505.2,200.3" fill="none" stroke="#e8844c" stroke-width="1.4"/>
<path d="M416.9,269.0 L433.1,263.5 L449.6,257.7 L467.4,245.0 C473.4,235.0 479.9,225.5 485.9,205.5 L505.2,200.3" fill="none" stroke="#e8844c" stroke-width="1.3" stroke-dasharray="3,2"/>
<path d="M416.9,357.7 L433.1,348.3 L449.6,337.9 L467.4,327.0 L485.9,315.0 L505.2,302.9" fill="none" stroke="#e04a4a" stroke-width="1.3"/>
<path d="M416.9,302.4 L433.1,302.9 L449.6,300.5 L467.4,304.6 L485.9,303.4 L505.2,332.6" fill="none" stroke="#34447a" stroke-width="1.35"/>
<path d="M416.9,339.8 L433.1,337.9 L449.6,337.9 L467.4,337.2 L485.9,341.0 C493.9,347.0 500.2,355.3 505.2,369.3" fill="none" stroke="#34447a" stroke-width="1.4" stroke-dasharray="3.5,2.2"/>
<rect x="415.59999999999997" y="240.6" width="2.6" height="4" fill="#5a8cc4"/>
<rect x="431.8" y="230.4" width="2.6" height="4" fill="#5a8cc4"/>
<rect x="448.3" y="217.0" width="2.6" height="4" fill="#5a8cc4"/>
<rect x="466.09999999999997" y="210.2" width="2.6" height="4" fill="#5a8cc4"/>
<rect x="484.59999999999997" y="196.5" width="2.6" height="4" fill="#5a8cc4"/>
<rect x="503.9" y="213.0" width="2.6" height="4" fill="#5a8cc4"/>
<path d="M416.9,275.6 L415.0,279.20000000000005 L418.79999999999995,279.20000000000005 Z" fill="#fff" stroke="#5a8cc4" stroke-width="0.9"/>
<path d="M433.1,265.5 L431.20000000000005,269.1 L435.0,269.1 Z" fill="#fff" stroke="#5a8cc4" stroke-width="0.9"/>
<path d="M449.6,254.5 L447.70000000000005,258.1 L451.5,258.1 Z" fill="#fff" stroke="#5a8cc4" stroke-width="0.9"/>
<path d="M467.4,243.0 L465.5,246.6 L469.29999999999995,246.6 Z" fill="#fff" stroke="#5a8cc4" stroke-width="0.9"/>
<path d="M485.9,236.0 L484.0,239.6 L487.79999999999995,239.6 Z" fill="#fff" stroke="#5a8cc4" stroke-width="0.9"/>
<path d="M505.2,254.0 L503.3,257.6 L507.09999999999997,257.6 Z" fill="#fff" stroke="#5a8cc4" stroke-width="0.9"/>
<path d="M415.09999999999997,268.5 L418.7,270.3 L415.09999999999997,272.1 Z" fill="#e8844c"/>
<path d="M431.3,265.0 L434.90000000000003,266.8 L431.3,268.6 Z" fill="#e8844c"/>
<path d="M447.8,258.2 L451.40000000000003,260.0 L447.8,261.8 Z" fill="#e8844c"/>
<path d="M465.59999999999997,243.2 L469.2,245.0 L465.59999999999997,246.8 Z" fill="#e8844c"/>
<path d="M484.09999999999997,197.2 L487.7,199.0 L484.09999999999997,200.8 Z" fill="#e8844c"/>
<path d="M503.4,198.5 L507.0,200.3 L503.4,202.10000000000002 Z" fill="#e8844c"/>
<path d="M415.09999999999997,267.2 L418.7,269.0 L415.09999999999997,270.8 Z" fill="#fff" stroke="#e8844c" stroke-width="0.9"/>
<path d="M431.3,261.7 L434.90000000000003,263.5 L431.3,265.3 Z" fill="#fff" stroke="#e8844c" stroke-width="0.9"/>
<path d="M447.8,255.89999999999998 L451.40000000000003,257.7 L447.8,259.5 Z" fill="#fff" stroke="#e8844c" stroke-width="0.9"/>
<path d="M465.59999999999997,243.2 L469.2,245.0 L465.59999999999997,246.8 Z" fill="#fff" stroke="#e8844c" stroke-width="0.9"/>
<path d="M484.09999999999997,203.7 L487.7,205.5 L484.09999999999997,207.3 Z" fill="#fff" stroke="#e8844c" stroke-width="0.9"/>
<path d="M503.4,198.5 L507.0,200.3 L503.4,202.10000000000002 Z" fill="#fff" stroke="#e8844c" stroke-width="0.9"/>
<circle cx="416.9" cy="357.7" r="1.5" fill="#d84848"/>
<circle cx="433.1" cy="348.3" r="1.5" fill="#d84848"/>
<circle cx="449.6" cy="337.9" r="1.5" fill="#d84848"/>
<circle cx="467.4" cy="327.0" r="1.5" fill="#d84848"/>
<circle cx="485.9" cy="315.0" r="1.5" fill="#d84848"/>
<circle cx="505.2" cy="302.9" r="1.5" fill="#d84848"/>
<rect x="415.5" y="300.2" width="2.8" height="4.4" fill="#34447a"/>
<rect x="431.70000000000005" y="300.7" width="2.8" height="4.4" fill="#34447a"/>
<rect x="448.20000000000005" y="298.3" width="2.8" height="4.4" fill="#34447a"/>
<rect x="466.0" y="302.40000000000003" width="2.8" height="4.4" fill="#34447a"/>
<rect x="484.5" y="301.2" width="2.8" height="4.4" fill="#34447a"/>
<rect x="503.8" y="330.40000000000003" width="2.8" height="4.4" fill="#34447a"/>
<path d="M416.9,337.8 L418.9,339.8 L416.9,341.8 L414.9,339.8 Z" fill="#fff" stroke="#34447a" stroke-width="0.9"/>
<path d="M433.1,335.9 L435.1,337.9 L433.1,339.9 L431.1,337.9 Z" fill="#fff" stroke="#34447a" stroke-width="0.9"/>
<path d="M449.6,335.9 L451.6,337.9 L449.6,339.9 L447.6,337.9 Z" fill="#fff" stroke="#34447a" stroke-width="0.9"/>
<path d="M467.4,335.2 L469.4,337.2 L467.4,339.2 L465.4,337.2 Z" fill="#fff" stroke="#34447a" stroke-width="0.9"/>
<path d="M485.9,339.0 L487.9,341.0 L485.9,343.0 L483.9,341.0 Z" fill="#fff" stroke="#34447a" stroke-width="0.9"/>
<path d="M505.2,367.3 L507.2,369.3 L505.2,371.3 L503.2,369.3 Z" fill="#fff" stroke="#34447a" stroke-width="0.9"/>
<ellipse cx="415.7" cy="268.6" rx="6" ry="7.8" fill="none" stroke="#555" stroke-width="0.9"/>
<path d="M415,261 Q411,261 408,261" fill="none" stroke="#444" stroke-width="0.9"/><path d="M405.5,261 L409,259.3 L409,262.7 Z" fill="#444"/>
<ellipse cx="506" cy="237" rx="6" ry="24" fill="none" stroke="#555" stroke-width="0.9"/>
<path d="M506,260.5 L515.5,260.5" fill="none" stroke="#444" stroke-width="0.9"/><path d="M517.8,260.5 L515,259.1 L515,261.9 Z" fill="#444"/>
<ellipse cx="417" cy="357.5" rx="5.6" ry="6.8" fill="none" stroke="#555" stroke-width="0.9"/>
<path d="M414,364.5 L408.5,364.5" fill="none" stroke="#444" stroke-width="0.9"/><path d="M406.8,364.5 L409.6,363.1 L409.6,365.9 Z" fill="#444"/>
<ellipse cx="506.2" cy="350" rx="6" ry="23" fill="none" stroke="#555" stroke-width="0.9"/>
<path d="M506,326 Q510,325 515.5,325.5" fill="none" stroke="#444" stroke-width="0.9"/><path d="M517.8,325.5 L515,324.1 L515,326.9 Z" fill="#444"/>
</g>
</svg></body></html>
